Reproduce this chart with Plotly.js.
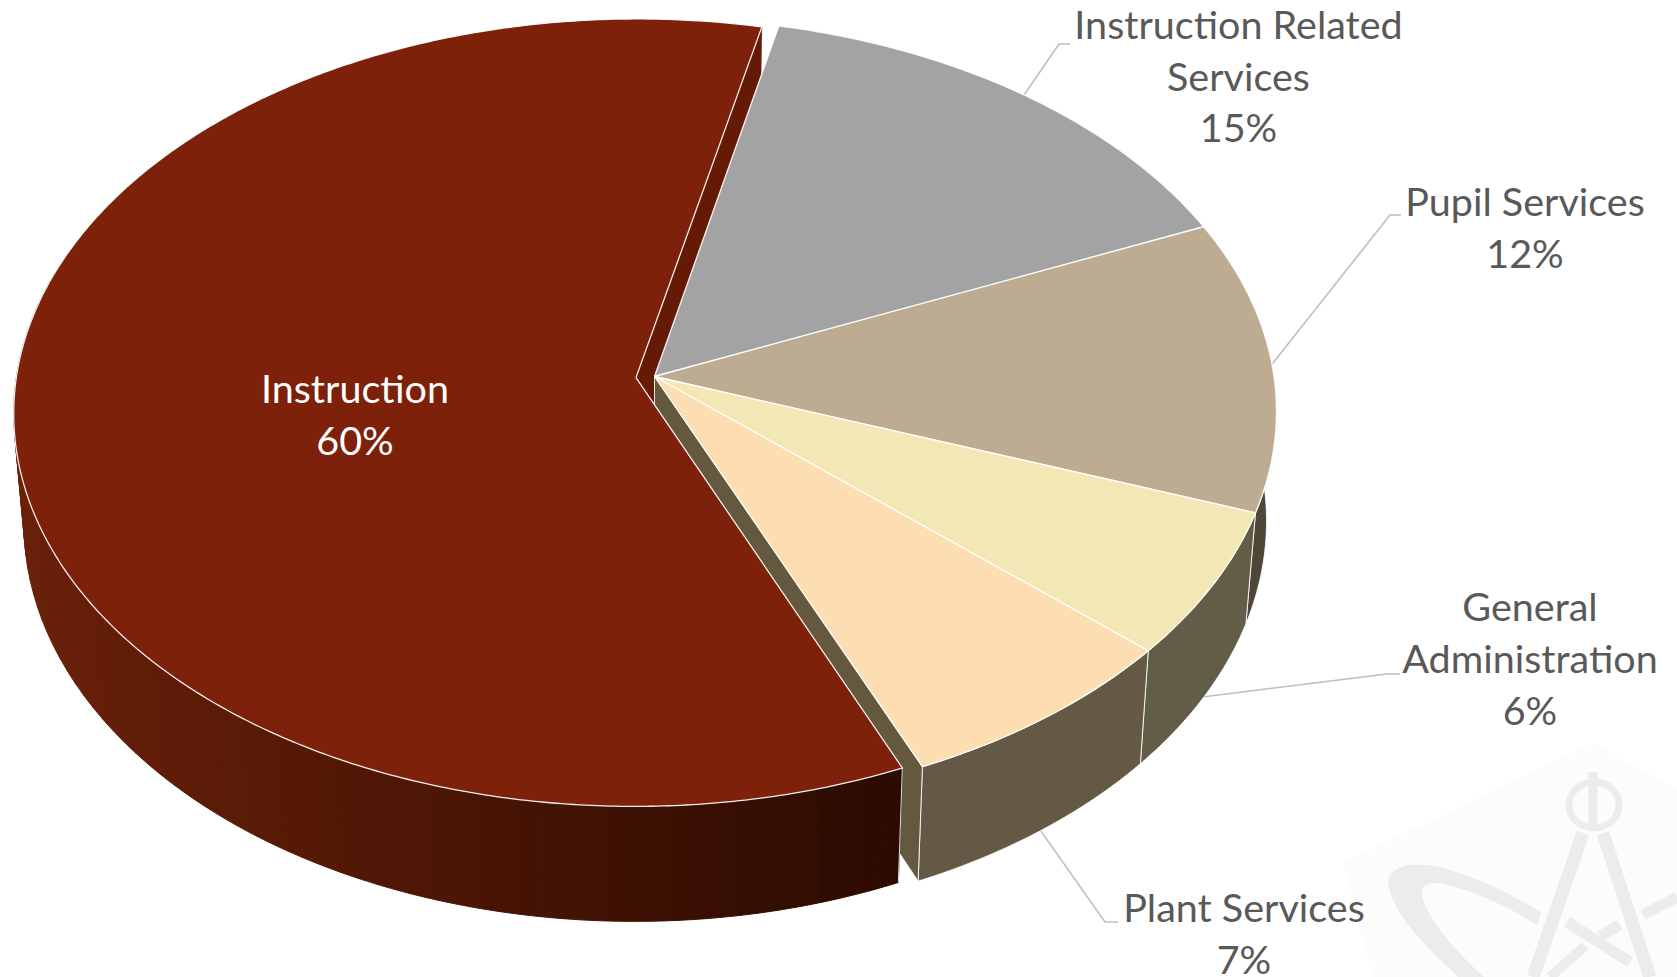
<!DOCTYPE html>
<html>
<head>
<meta charset="utf-8">
<title>Expenditure shares</title>
<script src="https://cdn.plot.ly/plotly-3.0.1.min.js"></script>
<style>
  html, body { margin: 0; padding: 0; background: #fff; overflow: hidden; }
  #chart { width: 1677px; height: 977px; }
</style>
</head>
<body>
<div id="chart"></div>
<script>
// Slice data, clockwise from the pie's start angle
const categories = ["Instruction Related Services", "Pupil Services", "General Administration", "Plant Services", "Instruction"];
const shares = [15, 12, 6, 7, 60];
const labelLines = [
  ["Instruction Related", "Services", "15%"],
  ["Pupil Services", "12%"],
  ["General", "Administration", "6%"],
  ["Plant Services", "7%"],
  ["Instruction", "60%"]
];
const topColors = ["#a3a3a3", "#bdac91", "#f3e7b5", "#fdddb2", "#7d210a"];
const wallColors = ["#5f5f5f", "#4f4638", "#625d46", "#645944", null];

// Pie geometry: tilted disc seen in perspective
const START_DEG = 12.6, CX = 654.5, CY = 376.5, RX = 619.5, RY = 390.4, PERSP = 0.089;
const EXPLODE = 0.03, WALL_SCALE_X = 0.984, WALL_SCALE_Y = 1.0135, WALL_DROP = 109.2;

const rad = d => d * Math.PI / 180;
function onDisc(u, v) {
  const w = 1 - PERSP * v;
  return [CX + RX * u / w, CY + RY * v / w];
}
function rim(deg, off) {
  return onDisc(Math.sin(rad(deg)) + off[0], -Math.cos(rad(deg)) + off[1]);
}
function below(p) {
  return [CX + WALL_SCALE_X * (p[0] - CX), CY + WALL_DROP + WALL_SCALE_Y * (p[1] - CY)];
}
function arc(a, b, off) {
  const n = Math.max(2, Math.ceil(Math.abs(b - a) * 2));
  const pts = [];
  for (let i = 0; i <= n; i++) pts.push(rim(a + (b - a) * i / n, off));
  return pts;
}
function poly(pts, fill, lineColor, width) {
  return {
    type: "scatter", mode: "lines", hoverinfo: "skip",
    x: pts.map(p => p[0]), y: pts.map(p => p[1]),
    fill: "toself", fillcolor: fill,
    line: { color: lineColor, width: width, simplify: false }
  };
}
function stroke(pts, color, width) {
  return {
    type: "scatter", mode: "lines", hoverinfo: "skip",
    x: pts.map(p => p[0]), y: pts.map(p => p[1]),
    line: { color: color, width: width, simplify: false }
  };
}
const EDGE = "rgba(255,255,255,0.85)";
const NO_OFFSET = [0, 0];

// Cumulative slice angles
const total = shares.reduce((a, b) => a + b, 0);
const bounds = [START_DEG];
shares.forEach(s => bounds.push(bounds[bounds.length - 1] + s / total * 360));
const mids = shares.map((s, i) => (bounds[i] + bounds[i + 1]) / 2);

const lastIdx = shares.length - 1;
const explodeDir = rad(mids[lastIdx]);
const pulled = [EXPLODE * Math.sin(explodeDir), -EXPLODE * Math.cos(explodeDir)];
const offsets = shares.map((s, i) => i === lastIdx ? pulled : NO_OFFSET);

const traces = [];

// Leader lines run behind the pie; elbow and end sit beside each label
const leaderTurns = [
  [[1059, 44], [1070, 44]],
  [[1390, 215], [1401, 215]],
  [[1387, 674], [1400, 674]],
  [[1105, 922], [1118, 922]]
];
leaderTurns.forEach((turn, i) => {
  const onTop = rim(mids[i], NO_OFFSET);
  const start = i < 2 ? onTop : below(onTop);
  traces.push(stroke([start, turn[0], turn[1]], "#bfbfbf", 1.6));
});

// Outer walls of the four joined slices, back to front
for (let i = 0; i < lastIdx; i++) {
  const top = arc(bounds[i], bounds[i + 1], NO_OFFSET);
  const bottom = top.map(below).reverse();
  traces.push(poly(top.concat(bottom, [top[0]]), wallColors[i], EDGE, 1));
}

// Cut face of the pulled-out slice, facing the gap at the top
const apexPulled = onDisc(pulled[0], pulled[1]);
const cornerPulled = rim(bounds[lastIdx + 1], pulled);
traces.push(poly([apexPulled, cornerPulled, below(cornerPulled), below(apexPulled), apexPulled], "#651a06", "#651a06", 0.5));

// Cut face of the joined slices, facing the gap at the bottom
const apex = onDisc(0, 0);
const cornerJoined = rim(bounds[lastIdx], NO_OFFSET);
traces.push(poly([apex, cornerJoined, below(cornerJoined), below(apex), apex], "#64593f", EDGE, 1));

// Outer wall of the pulled-out slice, shaded from dark at the front to lighter at the left
const wallFrom = bounds[lastIdx], wallTo = 286, wallSteps = 70;
const SHADE_LIGHT = [106, 32, 9], SHADE_DARK = [44, 11, 1];
for (let k = 0; k < wallSteps; k++) {
  const a = wallFrom + (wallTo - wallFrom) * k / wallSteps;
  const b = wallFrom + (wallTo - wallFrom) * (k + 1) / wallSteps;
  const top = arc(a, b, pulled);
  const bottom = top.map(below).reverse();
  const t = Math.min(1, Math.max(0, (top[0][0] - 20) / 870));
  const c = SHADE_LIGHT.map((v, j) => Math.round(v + (SHADE_DARK[j] - v) * t));
  const col = `rgb(${c[0]},${c[1]},${c[2]})`;
  traces.push(poly(top.concat(bottom, [top[0]]), col, col, 1));
}
traces.push(stroke([rim(bounds[lastIdx], pulled), below(rim(bounds[lastIdx], pulled))], EDGE, 1));

// Top faces
[lastIdx, 0, 1, 2, 3].forEach(i => {
  const o = offsets[i];
  const pts = [onDisc(o[0], o[1])].concat(arc(bounds[i], bounds[i + 1], o), [onDisc(o[0], o[1])]);
  traces.push(poly(pts, topColors[i], "rgba(255,255,255,0.92)", 1.3));
});

// Slice labels, one text mark per line
const labelCenters = [[1238.5, 29, 51.8], [1525, 206, 51.8], [1530, 611.5, 51.8], [1244, 912, 51.8], [355, 393.5, 51.8]];
labelLines.forEach((lines, i) => {
  const c = labelCenters[i];
  traces.push({
    type: "scatter", mode: "text", hoverinfo: "skip",
    x: lines.map(() => c[0]),
    y: lines.map((l, j) => c[1] + j * c[2]),
    text: lines, textposition: "middle center", cliponaxis: false,
    textfont: { family: "Lato, 'Open Sans', sans-serif", size: 39.5, color: i === lastIdx ? "#ffffff" : "#595959" }
  });
});

// Faint emblem behind the chart
const emblem = "#ececec";
const shapes = [
  { type: "path", path: "M1593,743 L1677,790 L1677,977 L1373,977 L1343,863 Z", fillcolor: "#fcfcfc", line: { width: 0 }, layer: "below" },
  { type: "circle", x0: 1569, x1: 1619, y0: 782, y1: 828, fillcolor: "rgba(0,0,0,0)", line: { color: emblem, width: 7 }, layer: "below" },
  { type: "path", path: "M1593,772 L1593,828", line: { color: emblem, width: 9 }, layer: "below" },
  { type: "path", path: "M1583,833 L1533,977", line: { color: emblem, width: 13 }, layer: "below" },
  { type: "path", path: "M1603,833 L1650,977", line: { color: emblem, width: 13 }, layer: "below" },
  { type: "path", path: "M1388,882 C1392,860 1425,862 1450,870 C1490,882 1520,900 1541,912 L1537,925 C1510,908 1480,893 1445,884 C1425,880 1418,888 1424,902 C1432,925 1460,955 1484,977 L1458,977 C1425,945 1392,915 1388,882 Z", fillcolor: emblem, line: { width: 0 }, layer: "below" },
  { type: "path", path: "M1567,922 L1630,962", line: { color: emblem, width: 11 }, layer: "below" },
  { type: "path", path: "M1677,897 L1643,915", line: { color: emblem, width: 11 }, layer: "below" },
  { type: "path", path: "M1620,925 L1600,936", line: { color: emblem, width: 11 }, layer: "below" },
  { type: "path", path: "M1585,946 L1550,977", line: { color: emblem, width: 10 }, layer: "below" }
];

const layout = {
  width: 1677, height: 977, autosize: false,
  margin: { l: 0, r: 0, t: 0, b: 0 },
  paper_bgcolor: "#ffffff", plot_bgcolor: "#ffffff",
  showlegend: false, hovermode: false,
  xaxis: { range: [0, 1677], visible: false, fixedrange: true },
  yaxis: { range: [977, 0], visible: false, fixedrange: true },
  shapes: shapes
};
Plotly.newPlot("chart", traces, layout, { displayModeBar: false, staticPlot: true });
</script>
</body>
</html>
